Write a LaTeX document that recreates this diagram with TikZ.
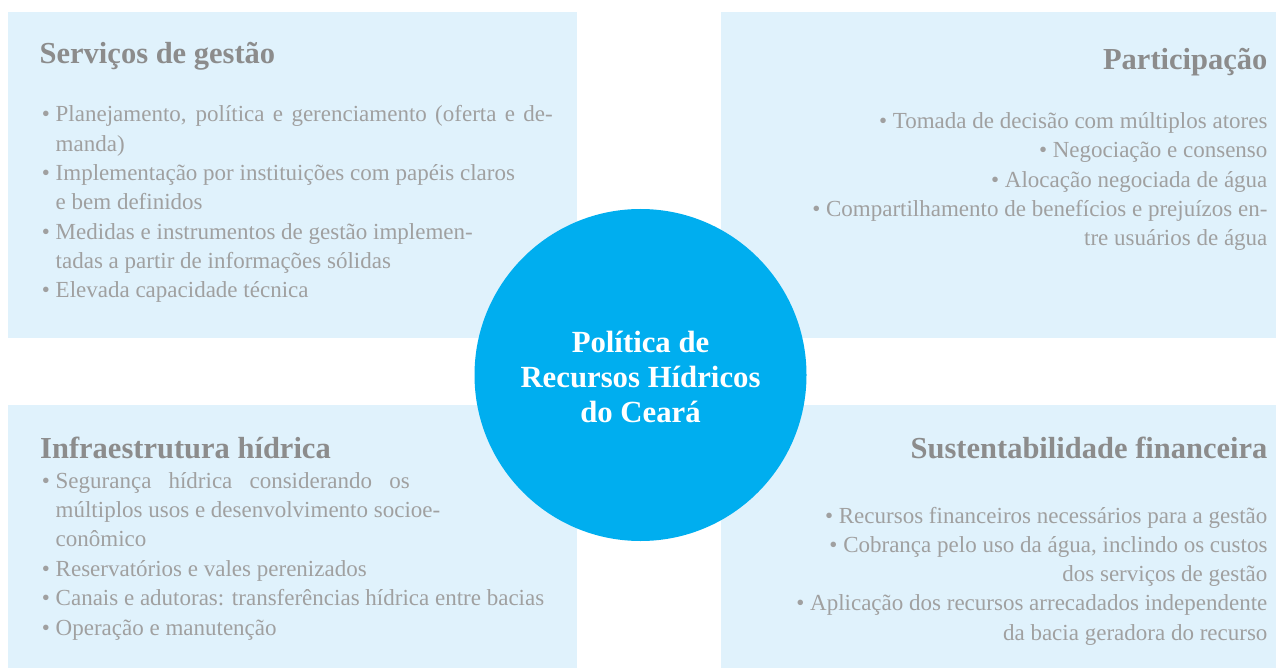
\documentclass[tikz,border=0pt]{standalone}
\usepackage{fontspec}
\setmainfont{Liberation Serif}
\definecolor{panelfill}{HTML}{E0F2FC}
\definecolor{circfill}{HTML}{00AEEF}
\definecolor{headgray}{HTML}{8C8C8C}
\definecolor{bodygray}{HTML}{A0A0A0}
\tikzset{
  panel/.style={fill=panelfill, draw=none, inner sep=0pt, anchor=north west},
  headtext/.style={text=headgray, inner sep=0pt, font=\fontsize{30.5}{36}\selectfont\bfseries},
  bodytext/.style={text=bodygray, inner sep=0pt, font=\fontsize{23}{29}\selectfont},
  centertext/.style={text=white, inner sep=0pt, anchor=base, font=\fontsize{30.75}{35}\selectfont\bfseries},
}
\begin{document}
\begin{tikzpicture}[x=1pt, y=-1pt]
\useasboundingbox (0,0) rectangle (1276,668);
% panels
\node[panel, minimum width=569pt, minimum height=326pt] (ptl) at (8,12) {};
\node[panel, minimum width=555pt, minimum height=326pt] (ptr) at (721,12) {};
\node[panel, minimum width=569pt, minimum height=263pt] (pbl) at (8,405) {};
\node[panel, minimum width=555pt, minimum height=263pt] (pbr) at (721,405) {};
% central circle
\node[circle, fill=circfill, draw=none, inner sep=0pt, minimum size=332pt] (circ) at (640.5,375) {};
\node[centertext] (ct1) at (640.5,352) {Política de};
\node[centertext] (ct2) at (640.5,387) {Recursos Hídricos};
\node[centertext] (ct3) at (640.5,422) {do Ceará};
% headings
\node[headtext, anchor=base west] (htl) at (39.5,64) {Serviços de gestão};
\node[headtext, anchor=base east] (htr) at (1267.6,70) {Participação};
\node[headtext, anchor=base west] (hbl) at (40,458) {Infraestrutura hídrica};
\node[headtext, anchor=base east] (hbr) at (1267.6,458) {Sustentabilidade financeira};
% top-left bullets
\foreach \t [count=\i] in {
  {\llap{•\ }\makebox[497pt][s]{Planejamento, política e gerenciamento (oferta e de-}},
  {manda)},
  {\llap{•\ }Implementação por instituições com papéis claros},
  {e bem definidos},
  {\llap{•\ }Medidas e instrumentos de gestão implemen-},
  {tadas a partir de informações sólidas},
  {\llap{•\ }Elevada capacidade técnica}}
  \node[bodytext, anchor=base west] (btl\i) at (55.5,{121.7+29.33*(\i-1)}) {\t};
% top-right bullets
\foreach \t [count=\i] in {
  {• Tomada de decisão com múltiplos atores},
  {• Negociação e consenso},
  {• Alocação negociada de água},
  {• Compartilhamento de benefícios e prejuízos en-},
  {tre usuários de água}}
  \node[bodytext, anchor=base east] (btr\i) at (1267.6,{128.3+29.4*(\i-1)}) {\t};
% bottom-left bullets
\foreach \t [count=\i] in {
  {\llap{•\ }\makebox[354pt][s]{Segurança hídrica considerando os}},
  {múltiplos usos e desenvolvimento socioe-},
  {conômico},
  {\llap{•\ }Reservatórios e vales perenizados},
  {\llap{•\ }Canais e adutoras: transferências hídrica entre bacias},
  {\llap{•\ }Operação e manutenção}}
  \node[bodytext, anchor=base west] (bbl\i) at (55.5,{488+29.4*(\i-1)}) {\t};
% bottom-right bullets
\foreach \t [count=\i] in {
  {• Recursos financeiros necessários para a gestão},
  {• Cobrança pelo uso da água, inclindo os custos},
  {dos serviços de gestão},
  {• Aplicação dos recursos arrecadados independente},
  {da bacia geradora do recurso}}
  \node[bodytext, anchor=base east] (bbr\i) at (1267.6,{523+29.25*(\i-1)}) {\t};
\end{tikzpicture}
\end{document}
